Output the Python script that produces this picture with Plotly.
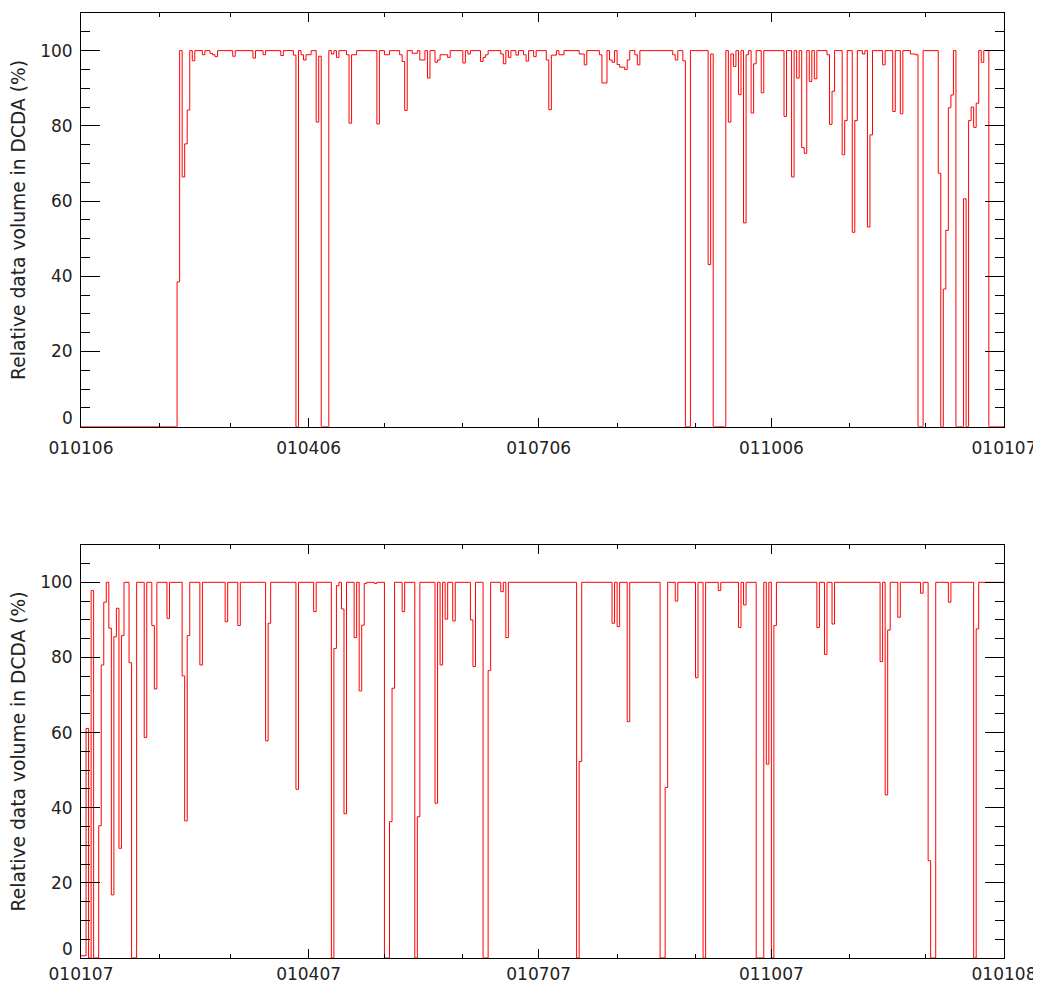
import pandas as pd
import plotly.graph_objects as go

# ---- data: step series, day offset from the panel start -> value (%) ----
top_start = "2006-01-01"
top_end = "2007-01-01"
top_days = [0, 38, 39, 40, 41, 42, 43, 44, 45, 48, 49, 51, 52, 53, 54, 60, 61, 68, 69, 72,
            73, 79, 80, 84, 85, 86, 87, 88, 89, 91, 93, 94, 95, 98, 99, 100, 101, 102, 105, 106,
            107, 109, 117, 118, 120, 122, 126, 127, 128, 129, 131, 133, 134, 136, 137, 138, 140, 141, 142, 145,
            146, 151, 152, 153, 154, 158, 159, 160, 161, 166, 167, 168, 169, 170, 172, 173, 175, 176, 177, 179,
            180, 184, 185, 186, 188, 189, 191, 197, 199, 200, 205, 206, 208, 209, 210, 211, 212, 213, 215, 216,
            217, 219, 220, 221, 234, 235, 236, 238, 239, 241, 248, 249, 250, 255, 256, 257, 258, 259, 260, 261,
            262, 263, 264, 265, 266, 267, 269, 270, 278, 279, 281, 282, 283, 284, 285, 286, 287, 288, 289, 290,
            291, 295, 296, 297, 298, 301, 302, 303, 305, 306, 307, 309, 310, 311, 312, 313, 317, 318, 321, 322,
            324, 325, 328, 330, 331, 333, 339, 340, 341, 342, 343, 344, 345, 346, 349, 350, 351, 352, 353, 354,
            355, 356, 357, 359]
top_values = [0, 38.5, 100, 66.4, 75.2, 84.2, 100, 97.3, 100, 98.9, 100, 99.3, 98.9, 98.4, 100, 98.5, 100, 98.0, 100, 98.9,
              100, 98.7, 100, 98.8, 0, 100, 98.9, 97.5, 98.9, 100, 81.0, 98.5, 0, 100, 99.1, 100, 98.2, 100, 98.9, 80.7,
              98.9, 100, 80.5, 100, 98.9, 100, 98.9, 97.1, 84.1, 100, 99.3, 100, 97.5, 100, 92.7, 100, 96.9, 97.5, 98.9, 98.2,
              100, 96.7, 100, 99.1, 100, 97.1, 98.2, 98.9, 100, 99.1, 96.5, 100, 98.2, 100, 98.8, 100, 98.9, 97.2, 100, 98.4,
              100, 97.5, 84.3, 98.8, 100, 98.9, 100, 99.1, 96.2, 100, 98.9, 91.4, 100, 97.5, 96.9, 100, 96.3, 95.6, 95.0, 97.5,
              100, 98.9, 96.2, 100, 98.9, 97.5, 100, 97.3, 0, 100, 43.1, 99.1, 0, 100, 81.0, 99.1, 95.8, 100, 88.3, 100,
              54.2, 98.9, 100, 83.4, 96.5, 100, 88.8, 100, 82.5, 100, 66.4, 100, 92.7, 100, 74.2, 72.7, 100, 91.8, 100, 92.5,
              100, 98.9, 80.4, 89.2, 100, 72.3, 81.4, 100, 51.7, 81.4, 100, 99.1, 100, 53.1, 77.6, 100, 96.2, 100, 83.8, 100,
              83.2, 100, 99.1, 98.9, 0, 100, 67.4, 0, 36.6, 52.2, 84.8, 88.2, 100, 0, 60.6, 0, 81.4, 85.0, 79.6, 86.0,
              100, 96.9, 100, 0]

bottom_start = "2007-01-01"
bottom_end = "2008-01-01"
bottom_days = [0, 2, 3, 4, 5, 7, 8, 9, 10, 11, 12, 13, 14, 15, 16, 17, 19, 20, 22, 25,
               26, 28, 29, 30, 34, 35, 40, 41, 42, 43, 47, 48, 57, 58, 62, 63, 73, 74, 75, 85,
               86, 92, 93, 99, 100, 101, 102, 103, 104, 105, 108, 109, 110, 111, 112, 113, 116, 117, 120, 122,
               123, 124, 127, 128, 132, 133, 134, 140, 141, 142, 143, 144, 145, 147, 148, 154, 155, 156, 159, 161,
               162, 166, 167, 168, 169, 196, 197, 198, 210, 211, 212, 213, 216, 217, 229, 231, 232, 235, 236, 243,
               244, 246, 247, 252, 253, 260, 261, 262, 263, 267, 270, 271, 272, 273, 274, 275, 291, 292, 294, 295,
               297, 298, 316, 317, 318, 319, 320, 323, 324, 332, 333, 335, 336, 338, 343, 344, 353, 354, 355]
bottom_values = [0.6, 61.1, 0, 97.8, 0, 35.2, 78.0, 94.7, 100, 87.8, 16.8, 85.5, 93.1, 29.2, 85.8, 100, 78.6, 0, 100, 58.7,
                 100, 88.5, 71.6, 100, 90.4, 100, 75.1, 36.5, 85.8, 100, 78.0, 100, 89.5, 100, 88.5, 100, 57.8, 89.1, 100, 44.9,
                 100, 92.2, 100, 0, 82.4, 99.1, 100, 92.9, 38.4, 100, 85.3, 100, 71.1, 88.6, 99.7, 100, 99.7, 100, 0, 36.3,
                 71.8, 100, 92.2, 100, 0, 37.6, 100, 41.2, 100, 78.0, 100, 90.2, 100, 89.7, 100, 90.0, 77.6, 100, 0, 76.5,
                 100, 97.5, 100, 85.3, 100, 0, 52.3, 100, 89.1, 100, 88.2, 100, 62.9, 100, 0, 45.4, 100, 95.0, 100, 74.6,
                 100, 0, 100, 97.8, 100, 88.0, 100, 94.0, 100, 0, 100, 51.6, 100, 0, 88.5, 100, 88.0, 100, 80.8, 100,
                 88.9, 100, 78.9, 100, 43.4, 87.3, 100, 90.7, 100, 97.1, 100, 25.9, 0, 100, 94.7, 100, 0, 87.6, 100]

y_tick_values = [0, 20, 40, 60, 80, 100]
y_tick_labels = ["0", "20", "40", "60", "80", "100"]
y_title = "Relative data volume in DCDA (%)"
tick_format = "%d%m%y"


def step_xy(start, end, days, values):
    t0 = pd.Timestamp(start)
    xs = [t0 + pd.Timedelta(days=d) for d in days] + [pd.Timestamp(end)]
    ys = list(values) + [values[-1]]
    return xs, ys


fig = go.Figure()
for i, (s, e, d, v) in enumerate([(top_start, top_end, top_days, top_values),
                                  (bottom_start, bottom_end, bottom_days, bottom_values)]):
    xs, ys = step_xy(s, e, d, v)
    fig.add_trace(go.Scatter(x=xs, y=ys, mode="lines", line=dict(color="#ff0000", width=1, shape="hv"),
                             xaxis="x" if i == 0 else "x2", yaxis="y" if i == 0 else "y2",
                             showlegend=False, hoverinfo="skip"))

family = "DejaVu Sans, sans-serif"
tick_font = dict(family=family, size=17, color="#222222")
title_font = dict(family=family, size=18.7, color="#222222")

def xaxis_cfg(start, end, anchor, domain, standoff):
    return dict(type="date", range=[start, end], tick0=start, dtick="M3", tickformat=tick_format,
                ticks="inside", ticklen=9, tickwidth=1, tickcolor="black",
                minor=dict(dtick="M1", tick0=start, ticks="inside", ticklen=4, tickwidth=1, tickcolor="black"),
                showline=True, linecolor="black", linewidth=1, mirror="ticks",
                showgrid=False, zeroline=False, tickfont=tick_font, ticklabelstandoff=standoff,
                automargin=False, anchor=anchor, domain=domain)

# the "0" label sits just above the axis (as in the reference), so it is drawn as an annotation
def yaxis_cfg(anchor, domain):
    return dict(range=[0, 110], tickmode="array", tickvals=y_tick_values,
                ticktext=[""] + y_tick_labels[1:],
                ticks="inside", ticklen=19, tickwidth=1, tickcolor="black",
                minor=dict(dtick=5, tick0=0, ticks="inside", ticklen=9, tickwidth=1, tickcolor="black"),
                showline=True, linecolor="black", linewidth=1, mirror="ticks",
                showgrid=False, zeroline=False, tickfont=tick_font, ticklabelstandoff=4,
                title=dict(text=y_title, font=title_font, standoff=11),
                automargin=False, anchor=anchor, domain=domain)

annotations = []
for yref in ["y", "y2"]:
    annotations.append(dict(text=y_tick_labels[0], xref="paper", x=0, xanchor="right", xshift=-6,
                            yref=yref, y=y_tick_values[0], yanchor="bottom", yshift=-3,
                            showarrow=False, font=tick_font))

# the page body adds an 8 px offset; margins compensate so the plot sits where the reference has it
fig.update_layout(
    template="none",
    width=1033, height=979,
    margin=dict(l=73, r=37, t=5, b=29),
    paper_bgcolor="white", plot_bgcolor="white",
    font=tick_font,
    xaxis=xaxis_cfg(top_start, top_end, "y", [0, 1], 6),
    yaxis=yaxis_cfg("x", [0.5622, 1.0]),
    xaxis2=xaxis_cfg(bottom_start, bottom_end, "y2", [0, 1], 1),
    yaxis2=yaxis_cfg("x2", [0.0, 0.4373]),
    annotations=annotations,
)

fig.write_html("out.html")
